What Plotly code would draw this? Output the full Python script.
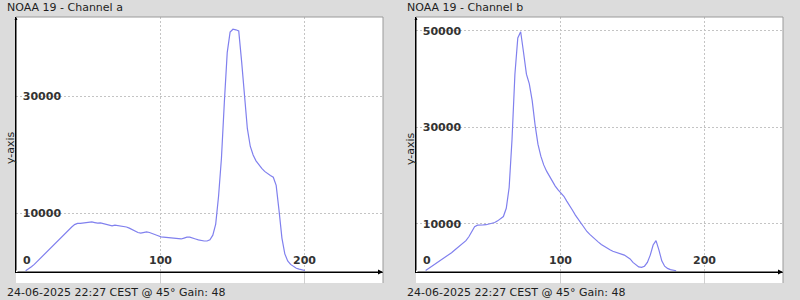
import plotly.graph_objects as go

# ---------------- data ----------------
x_a = list(range(6, 202, 2))
ch_a = [200, 500, 900, 1300, 1800, 2300, 2700, 3200, 3700, 4200,
        4700, 5200, 5700, 6200, 6700, 7200, 7700, 8100, 8300, 8300,
        8350, 8400, 8500, 8550, 8450, 8350, 8400, 8300, 8200, 8050,
        7900, 8000, 7950, 7800, 7850, 7700, 7500, 7250, 7000, 6750,
        6650, 6800, 6850, 6750, 6600, 6400, 6200, 6000, 5950, 5900,
        5950, 5900, 5850, 5700, 5650, 5800, 5950, 5950, 5850, 5650,
        5500, 5350, 5300, 5300, 5500, 6300, 8200, 13000, 19500, 29000,
        37500, 41000, 41500, 41400, 41200, 36000, 29500, 24500, 21500, 20000,
        19000, 18300, 17700, 17200, 16800, 16500, 16200, 14800, 10500, 5800,
        3100, 1900, 1300, 900, 650, 500, 350, 250]

x_b = list(range(6, 182, 2))
ch_b = [300, 700, 1100, 1500, 1900, 2400, 2800, 3200, 3600, 4000,
        4500, 5000, 5500, 6000, 6500, 7300, 8300, 9400, 9700, 9650,
        9750, 9800, 9950, 10100, 10250, 10600, 11000, 11500, 13200, 17500,
        27500, 41000, 48500, 49800, 45500, 41000, 39000, 35500, 30500, 26500,
        24000, 22200, 20900, 19800, 18800, 17800, 17000, 16400, 15700, 14700,
        13600, 12800, 11800, 10900, 10000, 9100, 8400, 7800, 7200, 6700,
        6200, 5700, 5300, 4900, 4600, 4300, 4100, 4000, 3800, 3500,
        3100, 2700, 2000, 1500, 1050, 950, 1200, 2000, 3500, 5600,
        6500, 4600, 2300, 1200, 750, 500, 350, 260]

titles = ["NOAA 19 - Channel a", "NOAA 19 - Channel b"]
footer = "24-06-2025 22:27 CEST @ 45\u00b0 Gain: 48"
x_ticks = [0, 100, 200]
x_grid = [100, 200]
y_title = "y-axis"

# ---------------- layout geometry ----------------
W, H = 800, 300
BG = "#dcdcdc"
LINE = "#8080ee"
GRID = "#c4c4c4"
TXT = "#1e1e1e"
TICK_FONT = dict(family="DejaVu Sans", size=11, color="#333333", weight="bold")
px = lambda v: v / W
py = lambda v: (H - v) / H

panels = [
    dict(x0=16, x1=383, y_max=43590, x=x_a, y=ch_a),
    dict(x0=416, x1=783, y_max=52850, x=x_b, y=ch_b),
]
top_px, axis_px, white_bottom_px = 17, 272, 283
plot_h = axis_px - top_px

fig = go.Figure()
annotations = []
shapes = []
for i, p in enumerate(panels):
    n = "" if i == 0 else str(i + 1)
    fig.add_trace(go.Scatter(x=p["x"], y=p["y"], mode="lines",
                             line=dict(color=LINE, width=1.2),
                             xaxis="x" + n, yaxis="y" + n,
                             hoverinfo="skip", showlegend=False))
    fig.update_layout(**{
        "xaxis" + n: dict(
            domain=[px(p["x0"]), px(p["x1"])], anchor="y" + n,
            range=[-0.7, 254.2], tickmode="array", tickvals=x_ticks,
            showticklabels=False, ticks="", showgrid=False,
            zeroline=False, showline=True, linecolor="black", linewidth=1,
            minor=dict(tickmode="array", tickvals=x_grid, showgrid=True,
                       gridcolor=GRID, griddash="2px,2px", gridwidth=1,
                       ticks="outside", ticklen=11, tickcolor="#d0d0d0", tickwidth=1),
            fixedrange=True),
        "yaxis" + n: dict(
            domain=[py(axis_px), py(top_px)], anchor="x" + n,
            range=[0, p["y_max"]], tick0=10000, dtick=20000, tickformat="d",
            ticklabelposition="inside", ticks="", ticklabelstandoff=6,
            showgrid=True, gridcolor=GRID, griddash="2px,2px", gridwidth=1,
            zeroline=False, showline=True, linecolor="black", linewidth=1,
            tickfont=TICK_FONT, fixedrange=True),
    })
    # x tick labels, just above the axis line (first one nudged inside the frame)
    for t in x_ticks:
        annotations.append(dict(xref="x" + n, yref="y%s domain" % n, x=t,
                                y=11.5 / plot_h, xanchor="center", yanchor="middle",
                                xshift=9.5 if t == x_ticks[0] else 0,
                                showarrow=False, text=str(t), font=TICK_FONT))
    # white extension below axis
    shapes.append(dict(type="rect", xref="paper", yref="paper",
                       x0=px(p["x0"]), x1=px(p["x1"]),
                       y0=py(white_bottom_px), y1=py(axis_px),
                       fillcolor="white", line=dict(width=0), layer="below"))
    # light border top & right
    shapes.append(dict(type="line", xref="paper", yref="paper",
                       x0=px(p["x0"]), x1=px(p["x1"]), y0=py(top_px), y1=py(top_px),
                       line=dict(color="#9a9a9a", width=1)))
    shapes.append(dict(type="line", xref="paper", yref="paper",
                       x0=px(p["x1"]), x1=px(p["x1"]), y0=py(top_px), y1=py(white_bottom_px),
                       line=dict(color="#9a9a9a", width=1)))
    # axis arrows
    annotations.append(dict(xref="x%s domain" % n, yref="y%s domain" % n,
                            axref="x%s domain" % n, ayref="y%s domain" % n,
                            x=1, y=0, ax=0, ay=0, text="", showarrow=True,
                            arrowhead=2, arrowsize=1, arrowwidth=1, arrowcolor="black"))
    annotations.append(dict(xref="x%s domain" % n, yref="y%s domain" % n,
                            axref="x%s domain" % n, ayref="y%s domain" % n,
                            x=0, y=1, ax=0, ay=0, text="", showarrow=True,
                            arrowhead=2, arrowsize=0.6, arrowwidth=1, arrowcolor="black"))
    # title and footer
    annotations.append(dict(xref="paper", yref="paper", x=px(p["x0"] - 11), y=py(8),
                            xanchor="left", yanchor="middle", showarrow=False,
                            text=titles[i], font=dict(family="DejaVu Sans", size=11, color=TXT)))
    annotations.append(dict(xref="paper", yref="paper", x=px(p["x0"] - 11), y=py(292),
                            xanchor="left", yanchor="middle", showarrow=False,
                            text=footer, font=dict(family="DejaVu Sans", size=11, color=TXT)))
    annotations.append(dict(xref="paper", yref="paper", x=px(p["x0"] - 6), y=py(148),
                            xanchor="center", yanchor="middle", showarrow=False,
                            textangle=-90, text=y_title,
                            font=dict(family="DejaVu Sans", size=11, color=TXT)))

fig.update_layout(width=W, height=H, margin=dict(l=0, r=0, t=0, b=0),
                  paper_bgcolor=BG, plot_bgcolor="white",
                  shapes=shapes, annotations=annotations, showlegend=False)

fig.write_html("out.html", config={"displayModeBar": False})
